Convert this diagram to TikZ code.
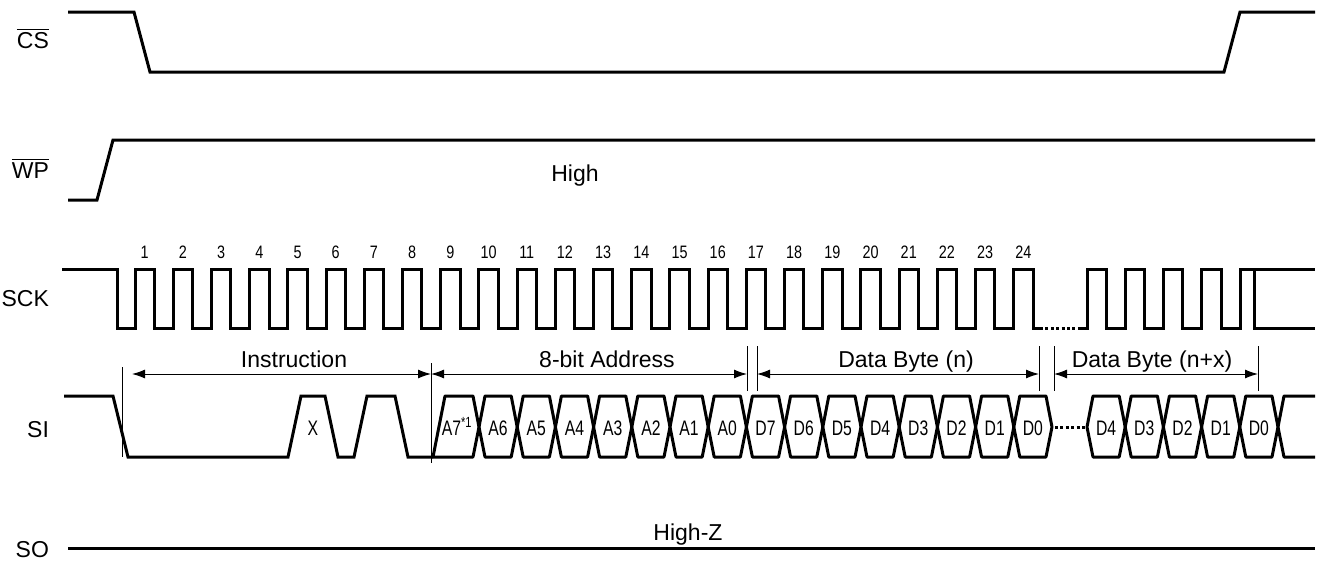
\documentclass[tikz,border=0pt]{standalone}
\usepackage{fontspec}
\setmainfont{Liberation Sans}
\usetikzlibrary{arrows.meta}

\begin{document}
\begin{tikzpicture}[x=0.5pt,y=-0.5pt,
  wave/.style={line width=1.5pt},
  cell/.style={line width=1.5pt, line join=round},
  guide/.style={line width=0.5pt},
  dim/.style={line width=0.5pt, {Latex[length=6.5pt,width=4.5pt]}-{Latex[length=6.5pt,width=4.5pt]}},
  sig/.style={anchor=base east, font=\fontsize{11.5}{12}\selectfont},
  lbl/.style={anchor=base, font=\fontsize{11.5}{12}\selectfont},
  num/.style={anchor=base, font=\fontsize{9}{10}\selectfont, xscale=0.8},
  bit/.style={anchor=base, font=\fontsize{10.5}{11}\selectfont, xscale=0.75}]
\useasboundingbox (0,0) rectangle (1319,568);

% signal names
\node[sig] (cs) at (56,48) {$\overline{\mbox{CS}}$};
\node[sig] (wp) at (56,178) {$\overline{\mbox{WP}}$};
\node[sig] (sck) at (56,306) {SCK};
\node[sig] (si) at (56,437) {SI};
\node[sig] (so) at (56,557) {SO};

% CS and WP
\draw[wave] (68,12) -- (134,12) -- (150,72) -- (1224,72) -- (1240,12) -- (1315,12);
\draw[wave] (68,200) -- (97,200) -- (113,140) -- (1315,140);
\node[lbl] (high) at (575,181) {High};

% SCK
\draw[wave] (62,269) -- (117,269) -- (117,328) -- (135,328)
  \foreach \k in {0,...,23}{ -- ({135+38.2*\k},328) -- ({135+38.2*\k},269)
    -- ({154.5+38.2*\k},269) -- ({154.5+38.2*\k},328)} -- (1040,328);
\draw[wave, dash pattern=on 1.5pt off 1.2pt] (1040,328) -- (1081,328);
\draw[wave] (1081,328)
  \foreach \k in {0,...,3}{ -- ({1087+38.2*\k},328) -- ({1087+38.2*\k},269)
    -- ({1106.5+38.2*\k},269) -- ({1106.5+38.2*\k},328)} -- (1240,328)
  -- (1240,269) -- (1315,269);
\draw[wave] (1254,269) -- (1254,328) -- (1315,328);
\foreach \k in {1,...,24}
  \node[num] (n\k) at ({144.75+38.2*(\k-1)},258) {\k};

% SI
\draw[wave] (64,396) -- (113,396) -- (128,457) -- (288,457) -- (301,396)
  -- (325,396) -- (338,457) -- (354,457) -- (367,396) -- (395,396)
  -- (408,457) -- (433,457);
\node[bit] (x) at (313,435) {X};
\draw[cell] (433,457) -- (445,396) -- (473,396) -- (479,427) -- (473,457) -- cycle;
\node[bit] (a7) at (457,435) {A7\textsuperscript{*1}};
\foreach \b [count=\i] in {A6,A5,A4,A3,A2,A1,A0,D7,D6,D5,D4,D3,D2,D1,D0}{
  \pgfmathsetmacro\ca{479+38.2*(\i-1)}
  \pgfmathsetmacro\cb{479+38.2*\i}
  \draw[cell] (\ca,427) -- ({\ca+6},396) -- ({\cb-6},396) -- (\cb,427)
    -- ({\cb-6},457) -- ({\ca+6},457) -- cycle;
  \node[bit] (s\b) at ({(\ca+\cb)/2},435) {\b};
}
\draw[wave, dash pattern=on 1.5pt off 1.2pt] (1055,427) -- (1085,427);
\foreach \b [count=\i] in {D4,D3,D2,D1,D0}{
  \pgfmathsetmacro\ca{1087+38.2*(\i-1)}
  \pgfmathsetmacro\cb{1087+38.2*\i}
  \draw[cell] (\ca,427) -- ({\ca+6},396) -- ({\cb-6},396) -- (\cb,427)
    -- ({\cb-6},457) -- ({\ca+6},457) -- cycle;
  \node[bit] (t\b) at ({(\ca+\cb)/2},435) {\b};
}
\draw[cell] (1315,396) -- (1284,396) -- (1278,427) -- (1284,457) -- (1315,457);

% phases
\coordinate (g1) at (122,374);
\coordinate (g2) at (431,374);
\coordinate (g3) at (747,374);
\coordinate (g4) at (757,374);
\coordinate (g5) at (1039,374);
\coordinate (g6) at (1054,374);
\coordinate (g7) at (1258,374);
\draw[guide] (122,367) -- (122,457);
\draw[guide] (431,363) -- (431,463);
\foreach \g in {747,757,1039,1054,1258}
  \draw[guide] (\g,346) -- (\g,391);
\draw[dim] ([xshift=5pt]g1) -- (g2);
\draw[dim] (g2) -- (g3);
\draw[dim] (g4) -- (g5);
\draw[dim] (g6) -- (g7);
\node[lbl] (ins) at (294,367) {Instruction};
\node[lbl] (adr) at (607,367) {8-bit Address};
\node[lbl] (dn) at (906,367) {Data Byte (n)};
\node[lbl] (dx) at (1152,367) {Data Byte (n+x)};

% SO
\draw[wave] (68,548) -- (1315,548);
\node[lbl] (hz) at (688,540) {High-Z};
\end{tikzpicture}
\end{document}
